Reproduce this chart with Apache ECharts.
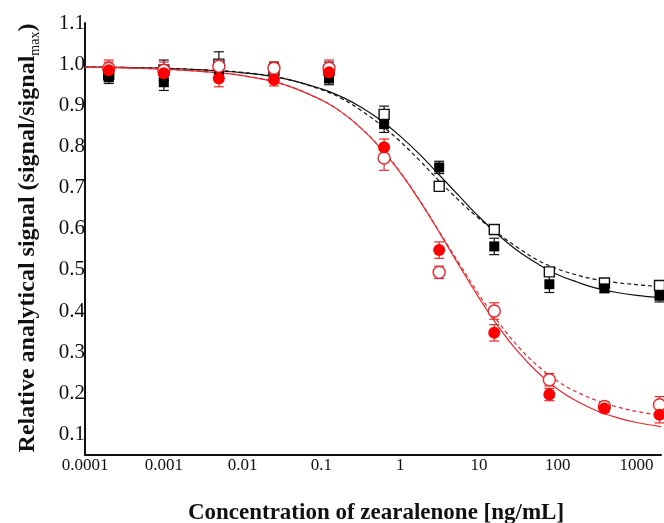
<!DOCTYPE html>
<html>
<head>
<meta charset="utf-8">
<script src="https://cdn.jsdelivr.net/npm/echarts@6/dist/echarts.min.js"></script>
<style>html,body{margin:0;padding:0;background:#fff}#c{width:664px;height:523px}</style>
</head>
<body>
<div id="c"></div>
<script>
// Concentrations (ng/mL)
const conc = [0.0002, 0.001, 0.005, 0.025, 0.125, 0.625, 3.125, 15.625, 78.125, 390.625, 1953.125];
// Black filled squares
const blackFilled    = [0.968, 0.956, 0.978, 0.990, 0.965, 0.854, 0.749, 0.557, 0.465, 0.455, 0.437];
const blackFilledErr = [0.015, 0.020, 0.015, 0.015, 0.015, 0.020, 0.015, 0.020, 0.020, 0.010, 0.015];
// Black open squares
const blackOpen      = [0.975, 0.985, 1.000, 0.985, 0.985, 0.878, 0.703, 0.598, 0.495, 0.468, 0.462];
const blackOpenErr   = [0.015, 0.025, 0.030, 0.015, 0.020, 0.020, 0.012, 0.012, 0.010, 0.010, 0.010];
// Red filled circles
const redFilled      = [0.985, 0.978, 0.965, 0.962, 0.980, 0.798, 0.548, 0.347, 0.197, 0.163, 0.148];
const redFilledErr   = [0.020, 0.020, 0.020, 0.015, 0.015, 0.020, 0.020, 0.020, 0.015, 0.010, 0.020];
// Red open circles
const redOpen        = [0.990, 0.985, 0.995, 0.990, 0.990, 0.772, 0.494, 0.400, 0.233, 0.168, 0.172];
const redOpenErr     = [0.020, 0.020, 0.015, 0.015, 0.020, 0.030, 0.015, 0.020, 0.015, 0.010, 0.020];

// Fitted curves
const fitX       = [0.0001, 0.000316, 0.001, 0.00316, 0.01, 0.0316, 0.1, 0.178, 0.316, 0.562, 1, 1.78, 3.16, 5.62, 10, 17.8, 31.6, 56.2, 100, 178, 316, 562, 1000, 2040];
const blackSolid = [0.993, 0.992, 0.990, 0.986, 0.979, 0.966, 0.940, 0.921, 0.896, 0.864, 0.825, 0.780, 0.730, 0.679, 0.629, 0.584, 0.545, 0.514, 0.488, 0.470, 0.455, 0.445, 0.438, 0.432];
const blackDash  = [0.993, 0.992, 0.990, 0.986, 0.980, 0.966, 0.938, 0.917, 0.888, 0.853, 0.812, 0.765, 0.715, 0.668, 0.625, 0.587, 0.553, 0.523, 0.502, 0.487, 0.476, 0.469, 0.464, 0.459];
const redSolid   = [0.993, 0.991, 0.988, 0.982, 0.972, 0.952, 0.913, 0.884, 0.845, 0.796, 0.737, 0.667, 0.590, 0.510, 0.432, 0.361, 0.300, 0.250, 0.210, 0.180, 0.157, 0.141, 0.129, 0.119];
const redDash    = [0.993, 0.991, 0.988, 0.982, 0.972, 0.952, 0.913, 0.884, 0.845, 0.797, 0.738, 0.668, 0.592, 0.515, 0.440, 0.372, 0.313, 0.266, 0.229, 0.202, 0.182, 0.167, 0.156, 0.146];

const xTickLabels = ['0.0001', '0.001', '0.01', '0.1', '1', '10', '100', '1000'];
const xTitle = 'Concentration of zearalenone [ng/mL]';

const RED = '#ff0000';
const RED_LINE = '#e8262b';
const FONT = '"Liberation Serif", "DejaVu Serif", serif';

const zip = (xs, ys) => xs.map((x, i) => [x, ys[i]]);
const zip3 = (xs, ys, es) => xs.map((x, i) => [x, ys[i], es[i]]);

function errRender(color) {
  return function (params, api) {
    const x = api.value(0), y = api.value(1), e = api.value(2);
    const t = api.coord([x, y + e]), b = api.coord([x, y - e]);
    const w = 5;
    const st = { stroke: color, lineWidth: 1.2 };
    return { type: 'group', children: [
      { type: 'line', shape: { x1: t[0], y1: t[1], x2: b[0], y2: b[1] }, style: st },
      { type: 'line', shape: { x1: t[0] - w, y1: t[1], x2: t[0] + w, y2: t[1] }, style: st },
      { type: 'line', shape: { x1: b[0] - w, y1: b[1], x2: b[0] + w, y2: b[1] }, style: st }
    ]};
  };
}
function errSeries(ys, es, color) {
  return { type: 'custom', renderItem: errRender(color), data: zip3(conc, ys, es),
    encode: { x: 0, y: 1 }, silent: true, z: 3 };
}
function lineSeries(ys, color, dashed) {
  return { type: 'line', data: zip(fitX, ys), smooth: 0.4, symbol: 'none', silent: true, z: 2,
    lineStyle: { color: color, width: 1.2, type: dashed ? [4, 3] : 'solid' } };
}
function scatterSeries(ys, symbol, size, fill, border) {
  return { type: 'scatter', data: zip(conc, ys), symbol: symbol, symbolSize: size, z: 4,
    itemStyle: { color: fill, borderColor: border, borderWidth: fill === '#ffffff' ? 1.4 : 0, opacity: 1 } };
}

const chart = echarts.init(document.getElementById('c'), null, { renderer: 'canvas' });
chart.setOption({
  animation: false,
  backgroundColor: '#ffffff',
  grid: { left: 85, right: 0, top: 23, bottom: 68, containLabel: false },
  xAxis: {
    type: 'log', logBase: 10, min: 0.0001, max: 2040,
    axisLine: { lineStyle: { color: '#111', width: 2 } },
    axisTick: { show: false },
    splitLine: { show: false },
    axisLabel: {
      margin: 2, color: '#111', fontFamily: FONT, fontSize: 17,
      formatter: function (v) {
        const k = Math.round(Math.log10(v));
        if (Math.abs(Math.log10(v) - k) > 1e-6) return '';
        return xTickLabels[k + 4] || '';
      }
    }
  },
  yAxis: {
    type: 'value', min: 0.05, max: 1.1, splitNumber: 10,
    axisLine: { show: true, lineStyle: { color: '#111', width: 2 } },
    axisTick: { show: false },
    splitLine: { show: false },
    axisLabel: {
      margin: 0, color: '#111', fontFamily: FONT, fontSize: 21,
      showMinLabel: false,
      formatter: function (v) {
        const r = Math.round(v * 10);
        if (Math.abs(v * 10 - r) > 1e-6) return '';
        return (r / 10).toFixed(1);
      }
    }
  },
  graphic: [
    { type: 'text', x: 376, y: 513,
      style: { text: xTitle, font: 'bold 23px ' + FONT, fill: '#111', align: 'center', verticalAlign: 'middle' } },
    { type: 'text', x: 29, y: 238, rotation: Math.PI / 2,
      style: {
        text: '{a|Relative analytical signal (signal/signal}{s|max}{a|)}',
        align: 'center', verticalAlign: 'middle',
        rich: {
          a: { fontFamily: FONT, fontWeight: 'bold', fontSize: 24, lineHeight: 27, verticalAlign: 'top', fill: '#111' },
          s: { fontFamily: FONT, fontWeight: 'normal', fontSize: 14, lineHeight: 14, padding: [17, 0, 0, 0], verticalAlign: 'bottom', fill: '#111' }
        }
      }
    }
  ],
  series: [
    lineSeries(blackSolid, '#111', false),
    lineSeries(blackDash, '#111', true),
    errSeries(blackOpen, blackOpenErr, '#111'),
    errSeries(blackFilled, blackFilledErr, '#111'),
    scatterSeries(blackOpen, 'rect', 10, '#ffffff', '#111'),
    scatterSeries(blackFilled, 'rect', 10, '#000000', '#000'),
    lineSeries(redSolid, RED_LINE, false),
    lineSeries(redDash, RED_LINE, true),
    errSeries(redOpen, redOpenErr, RED_LINE),
    errSeries(redFilled, redFilledErr, RED_LINE),
    scatterSeries(redOpen, 'circle', 12, '#ffffff', RED_LINE),
    scatterSeries(redFilled, 'circle', 12, RED, RED)
  ]
});
</script>
</body>
</html>
